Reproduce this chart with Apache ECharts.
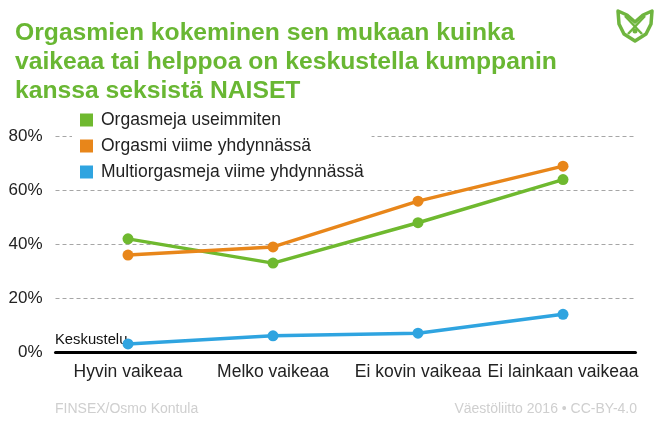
<!DOCTYPE html>
<html><head><meta charset="utf-8">
<style>html,body{margin:0;padding:0;background:#fff}#c{width:662px;height:437px}</style>
<script src="https://cdn.jsdelivr.net/npm/echarts@6/dist/echarts.min.js"></script></head>
<body><div id="c"></div>
<script>
const categories = ['Hyvin vaikeaa','Melko vaikeaa','Ei kovin vaikeaa','Ei lainkaan vaikeaa'];
const useimmiten = [42,33,48,64];
const viimeYhdynta = [36,39,56,69];
const multi = [3,6,7,14];
const seriesNames = ['Orgasmeja useimmiten','Orgasmi viime yhdynnässä','Multiorgasmeja viime yhdynnässä'];
const colors = ['#6fb92f','#e8861a','#2fa4e0'];
const titleText = 'Orgasmien kokeminen sen mukaan kuinka\nvaikeaa tai helppoa on keskustella kumppanin\nkanssa seksistä NAISET';
const FONT = '"Liberation Sans", Arial, sans-serif';
const chart = echarts.init(document.getElementById('c'), null, {renderer:'canvas'});
const mk = (name,data,color)=>({name,type:'line',data,symbol:'circle',symbolSize:11,z:3,
  lineStyle:{color,width:3.5},itemStyle:{color},emphasis:{disabled:true}});
const G = '#6fb53f';
chart.setOption({
  animation:false,
  backgroundColor:'#fff',
  title:{text:titleText,left:15,top:18.5,padding:0,
    textStyle:{fontFamily:FONT,fontWeight:'bold',fontSize:24.7,lineHeight:29,color:'#69b733'}},
  legend:{left:72,top:107,orient:'vertical',padding:[3,8,3,8],itemGap:6,itemWidth:13,itemHeight:13,icon:'rect',
    backgroundColor:'#fff',selectedMode:false,z:2,
    textStyle:{fontFamily:FONT,fontSize:17.5,lineHeight:20,color:'#222',padding:[0,0,0,3]}},
  grid:{left:55.5,right:26.5,top:136.5,bottom:85,containLabel:false},
  xAxis:{type:'category',data:categories,boundaryGap:true,
    axisLine:{lineStyle:{color:'#000',width:3},onZero:true},axisTick:{show:false},
    axisLabel:{fontFamily:FONT,fontSize:17.5,color:'#222',margin:11,interval:0}},
  yAxis:{type:'value',min:0,max:80,interval:20,
    axisLine:{show:false},axisTick:{show:false},
    axisLabel:{fontFamily:FONT,fontSize:17,color:'#222',margin:13,formatter:v=>v+'%'},
    splitLine:{lineStyle:{color:'#a6a6a6',type:[4,3],width:1}}},
  series:[mk(seriesNames[0],useimmiten,colors[0]),mk(seriesNames[1],viimeYhdynta,colors[1]),mk(seriesNames[2],multi,colors[2])],
  graphic:[
    {type:'text',left:55,top:332,z:1,style:{text:'Keskustelu',fontFamily:FONT,fontSize:14.8,fill:'#111'}},
    {type:'text',left:55,top:402,style:{text:'FINSEX/Osmo Kontula',fontFamily:FONT,fontSize:14,fill:'#cfcfcf'}},
    {type:'text',right:25,top:402,style:{text:'Väestöliitto 2016 • CC-BY-4.0',fontFamily:FONT,fontSize:14,fill:'#cfcfcf'}},
    {type:'group',x:617,y:10,children:[
      {type:'polygon',shape:{points:[[1,1],[10,5],[18,12],[26,5],[35,1],[34,14],[29,24],[18,31],[7,24],[2,14]]},
        style:{fill:'none',stroke:G,lineWidth:3.5,lineJoin:'round'}},
      {type:'line',shape:{x1:8,y1:6,x2:25,y2:24},style:{stroke:G,lineWidth:2.5}},
      {type:'line',shape:{x1:28,y1:6,x2:11,y2:24},style:{stroke:G,lineWidth:2.5}},
      {type:'circle',shape:{cx:18,cy:21,r:2.5},style:{fill:G}}
    ]}
  ]
});
</script></body></html>
